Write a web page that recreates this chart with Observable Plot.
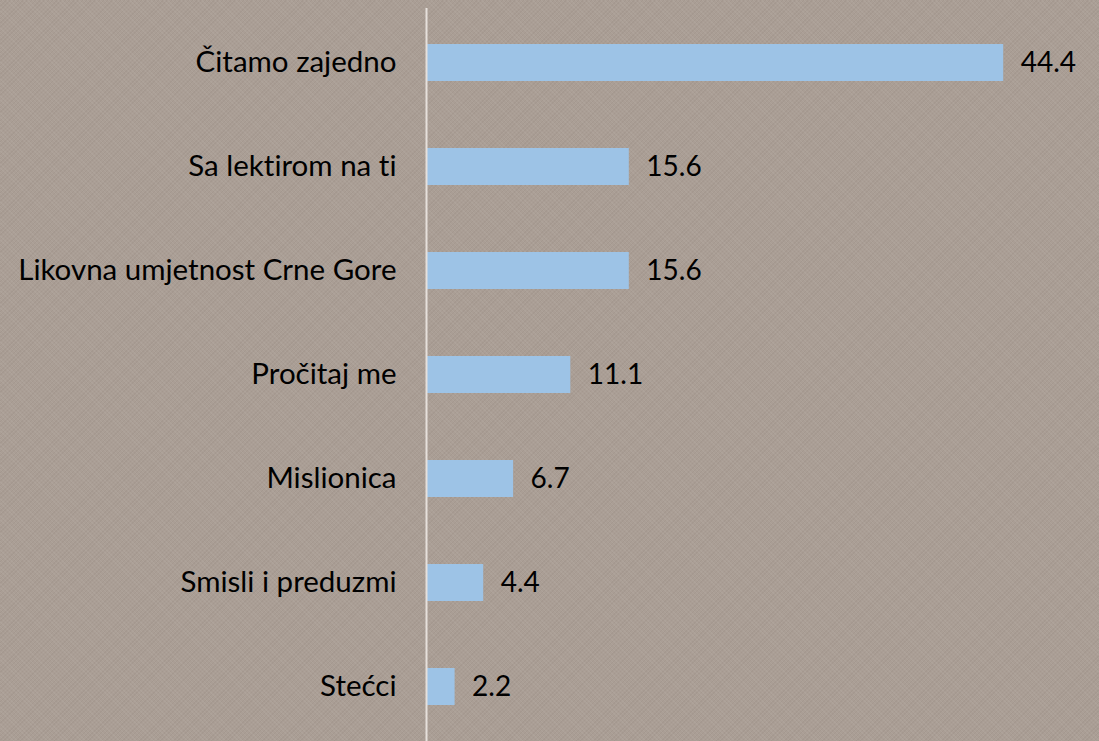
<!DOCTYPE html>
<html>
<head>
<meta charset="utf-8">
<script src="https://cdn.jsdelivr.net/npm/d3@7"></script>
<script src="https://cdn.jsdelivr.net/npm/@observablehq/plot@0.6"></script>
<style>
  html, body { margin: 0; padding: 0; }
  body {
    background-color: #aa9e95;
    background-image:
      repeating-linear-gradient(45deg, rgba(255,255,255,0.05) 0px, rgba(255,255,255,0.05) 1px, transparent 1px, transparent 3px),
      repeating-linear-gradient(-45deg, rgba(60,45,35,0.05) 0px, rgba(60,45,35,0.05) 1px, transparent 1px, transparent 3px);
  }
  #chart svg { display: block; background: transparent; }
  #chart svg text { font-variant-ligatures: none; font-feature-settings: "liga" 0, "clig" 0, "dlig" 0; }
</style>
</head>
<body>
<div id="chart"></div>
<script>
const categories = ["Čitamo zajedno", "Sa lektirom na ti", "Likovna umjetnost Crne Gore", "Pročitaj me", "Mislionica", "Smisli i preduzmi", "Stećci"];
const values = [44.4, 15.6, 15.6, 11.1, 6.7, 4.4, 2.2];
const valueLabels = ["44.4", "15.6", "15.6", "11.1", "6.7", "4.4", "2.2"];

const data = categories.map((c, i) => ({category: c, value: values[i], label: valueLabels[i]}));

const chart = Plot.plot({
  width: 1099,
  height: 741,
  marginLeft: 426,
  marginRight: 0,
  marginTop: 8,
  marginBottom: 0,
  style: {fontFamily: "Lato, 'Open Sans', sans-serif", fontSize: "29.5px", color: "#000", background: "transparent"},
  x: {domain: [0, 51.77], axis: null},
  y: {domain: categories, paddingInner: 0.642, paddingOuter: 0.317, align: 0.505, label: null},
  marks: [
    Plot.barX(data, {x: "value", y: "category", fill: "#9dc3e6"}),
    Plot.text(data, {x: "value", y: "category", text: "label", textAnchor: "start", dx: 17, fill: "#000", fontSize: 28}),
    Plot.axisY({tickSize: 0, tickPadding: 30, fontSize: 29.5, fill: "#000", label: null}),
    Plot.ruleX([0], {stroke: "#e6e0db", strokeWidth: 2})
  ]
});
document.getElementById("chart").appendChild(chart);
</script>
</body>
</html>
